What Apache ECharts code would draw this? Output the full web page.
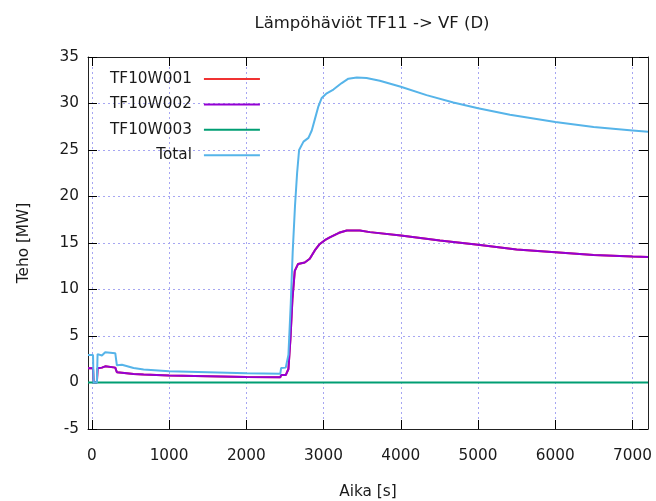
<!DOCTYPE html>
<html>
<head>
<meta charset="utf-8">
<script src="https://cdn.jsdelivr.net/npm/echarts@6/dist/echarts.min.js"></script>
<style>html,body{margin:0;padding:0;background:#fff;}#c{width:656px;height:501px;}</style>
</head>
<body>
<div id="c"></div>
<script>
// ---- data ----
const titleText = 'Lämpöhäviöt TF11 -> VF (D)';
const xName = 'Aika [s]';
const yName = 'Teho [MW]';
const seriesNames = ['TF10W001', 'TF10W002', 'TF10W003', 'Total'];
const xTicks = [0, 1000, 2000, 3000, 4000, 5000, 6000, 7000];
const yTicks = [-5, 0, 5, 10, 15, 20, 25, 30, 35];

const tW002 = [-50, 15, 22, 65, 74, 130, 173, 303, 324, 389, 540, 670, 1000, 1500, 2000, 2440, 2450, 2510, 2545, 2571, 2597, 2627, 2670, 2756, 2821, 2886, 2951, 3016, 3080, 3200, 3300, 3470, 3600, 4000, 4506, 5000, 5499, 6000, 6496, 7000, 7200];
const vW002 = [1.53, 1.53, 0, 0, 1.53, 1.6, 1.74, 1.6, 1.1, 1.05, 0.92, 0.85, 0.75, 0.68, 0.6, 0.56, 0.8, 0.8, 1.45, 4.7, 9.0, 12.0, 12.75, 12.9, 13.3, 14.2, 14.9, 15.3, 15.6, 16.1, 16.35, 16.35, 16.17, 15.8, 15.27, 14.8, 14.3, 14.0, 13.7, 13.55, 13.5];

const tW001 = tW002;
const vW001 = [1.53, 1.53, 0, 0, 1.53, 1.6, 1.74, 1.6, 1.1, 1.05, 0.92, 0.85, 0.75, 0.68, 0.6, 0.56, 0.8, 0.8, 1.45, 4.7, 9.0, 12.0, 12.75, 12.9, 13.3, 14.2, 14.9, 15.3, 15.6, 16.1, 16.35, 16.35, 16.17, 15.8, 15.27, 14.8, 14.3, 14.0, 13.7, 13.55, 13.5];

const tW003 = [-50, 7200];
const vW003 = [0, 0];

const tTotal = [-50, 15, 22, 65, 74, 130, 173, 303, 324, 389, 540, 670, 1000, 1500, 2000, 2440, 2450, 2510, 2545, 2575, 2600, 2630, 2657, 2683, 2740, 2804, 2847, 2890, 2933, 2976, 3041, 3127, 3235, 3321, 3430, 3556, 3728, 4000, 4333, 4680, 5000, 5413, 6000, 6496, 7000, 7200];
const vTotal = [2.96, 2.96, 0, 0, 3.05, 2.9, 3.25, 3.15, 1.85, 1.9, 1.55, 1.4, 1.2, 1.1, 1.0, 0.95, 1.55, 1.6, 3.0, 8.5, 14.0, 19.0, 22.5, 25.0, 25.9, 26.3, 27.1, 28.4, 29.7, 30.6, 31.1, 31.5, 32.2, 32.67, 32.8, 32.75, 32.45, 31.8, 30.9, 30.1, 29.5, 28.8, 28.0, 27.47, 27.1, 26.95];

const colors = ['#f03232', '#9400d3', '#009e73', '#56b4e9'];

function pairs(t, v) { return t.map((x, i) => [x, v[i]]); }

const FONT = 'DejaVu Sans';
const FS = 15.3;
const TXT = '#1a1a1a';
const chart = echarts.init(document.getElementById('c'), null, {renderer: 'canvas'});

const axisLineStyle = {color: '#222', width: 1};
const tickStyle = {show: true, inside: true, length: 9, lineStyle: {color: '#000', width: 1}};
const gridLineStyle = {color: '#a6a6f2', width: 1, type: [2, 3]};
const fmt = v => String(v);

const option = {
  animation: false,
  backgroundColor: '#fff',
  textStyle: {fontFamily: FONT},
  title: {
    text: titleText, left: 367, top: 10, textAlign: 'center',
    textStyle: {fontFamily: FONT, fontSize: 16.5, fontWeight: 'normal', color: TXT}
  },
  grid: {left: 88, right: 8, top: 57, bottom: 72, containLabel: false, outerBoundsMode: 'none'},
  legend: {
    orient: 'vertical', left: 110, top: 71, align: 'right',
    itemWidth: 56, itemHeight: 2, itemGap: 9.4, icon: 'rect', padding: 0,
    textStyle: {fontFamily: FONT, fontSize: FS, color: TXT, lineHeight: 16, padding: [0, 7, 0, 0]},
    data: seriesNames
  },
  xAxis: [{
    type: 'value', min: -50, max: 7200, position: 'bottom',
    name: xName, nameLocation: 'middle', nameGap: 56,
    nameTextStyle: {fontFamily: FONT, fontSize: FS, color: TXT},
    axisLine: {show: true, onZero: false, lineStyle: axisLineStyle},
    axisTick: Object.assign({customValues: xTicks}, tickStyle),
    axisLabel: {show: true, customValues: xTicks, formatter: fmt, margin: 20, fontFamily: FONT, fontSize: FS, color: TXT},
    splitLine: {show: true, lineStyle: gridLineStyle}
  }, {
    type: 'value', min: -50, max: 7200, position: 'top',
    axisLine: {show: true, onZero: false, lineStyle: axisLineStyle},
    axisTick: Object.assign({customValues: xTicks}, tickStyle),
    axisLabel: {show: false},
    splitLine: {show: false}
  }],
  yAxis: [{
    type: 'value', min: -5, max: 35, interval: 5, position: 'left',
    name: yName, nameLocation: 'middle', nameGap: 56,
    nameTextStyle: {fontFamily: FONT, fontSize: FS, color: TXT},
    axisLine: {show: true, onZero: false, lineStyle: axisLineStyle},
    axisTick: Object.assign({customValues: yTicks}, tickStyle),
    axisLabel: {show: true, formatter: fmt, margin: 9, fontFamily: FONT, fontSize: FS, color: TXT},
    splitLine: {show: true, lineStyle: gridLineStyle}
  }, {
    type: 'value', min: -5, max: 35, interval: 5, position: 'right',
    axisLine: {show: true, onZero: false, lineStyle: axisLineStyle},
    axisTick: Object.assign({customValues: yTicks}, tickStyle),
    axisLabel: {show: false},
    splitLine: {show: false}
  }],
  series: [
    {name: seriesNames[0], type: 'line', data: pairs(tW001, vW001)},
    {name: seriesNames[1], type: 'line', data: pairs(tW002, vW002)},
    {name: seriesNames[2], type: 'line', data: pairs(tW003, vW003)},
    {name: seriesNames[3], type: 'line', data: pairs(tTotal, vTotal)}
  ].map((s, i) => Object.assign(s, {
    xAxisIndex: 0, yAxisIndex: 0, showSymbol: false, symbol: 'none',
    color: colors[i], lineStyle: {width: 2, color: colors[i]}, z: 2 + i
  }))
};
chart.setOption(option);
</script>
</body>
</html>
